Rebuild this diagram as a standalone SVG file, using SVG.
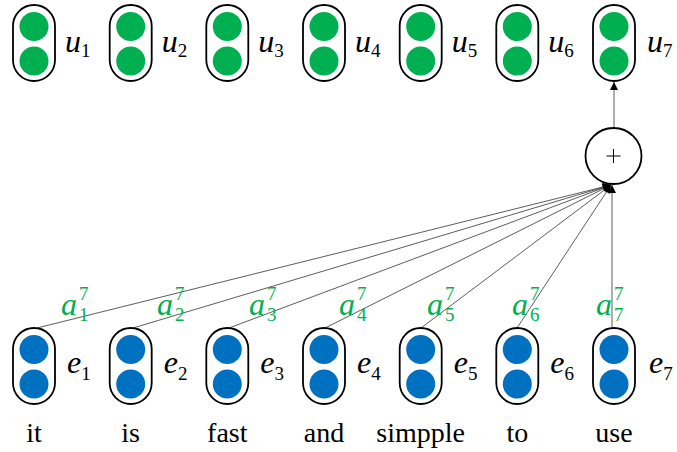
<svg xmlns="http://www.w3.org/2000/svg" width="677" height="452" viewBox="0 0 677 452">
<defs>
<style>
.box{fill:#fff;stroke:#000;stroke-width:1.8}
.g{fill:#00B050}
.b{fill:#0070C0}
text{font-family:'Liberation Serif','Times New Roman','DejaVu Serif',serif}
.var{font-style:italic;font-size:32px;fill:#000}
.sub{font-style:normal;font-size:19px}
.att{font-style:italic;font-size:32px;fill:#00B050}
.ga{fill:#00B050}
.word{font-size:28px;fill:#000;text-anchor:middle}
.conn{stroke:#333;stroke-width:0.8;fill:none}
</style>
<marker id="ah" viewBox="0 0 10 10" refX="10" refY="5" markerWidth="10" markerHeight="8" markerUnits="userSpaceOnUse" orient="auto">
<path d="M0,0 L10,5 L0,10 z" fill="#000"/>
</marker>
</defs>
<rect width="677" height="452" fill="#fff"/>

<g id="connectors">
<line class="conn" x1="37" y1="328" x2="611" y2="185" marker-end="url(#ah)"/>
<line class="conn" x1="133" y1="328" x2="611" y2="185" marker-end="url(#ah)"/>
<line class="conn" x1="229" y1="328" x2="611" y2="185" marker-end="url(#ah)"/>
<line class="conn" x1="325" y1="328" x2="611" y2="185" marker-end="url(#ah)"/>
<line class="conn" x1="421" y1="328" x2="611" y2="185" marker-end="url(#ah)"/>
<line class="conn" x1="517" y1="328" x2="611" y2="185" marker-end="url(#ah)"/>
<line class="conn" x1="612" y1="328" x2="612" y2="185" marker-end="url(#ah)"/>
<line class="conn" x1="614" y1="128" x2="614" y2="82" marker-end="url(#ah)"/>
</g>

<g id="plus">
<circle cx="613.5" cy="156" r="28" fill="#fff" stroke="#000" stroke-width="1.8"/>
<line x1="606.5" y1="156" x2="620.5" y2="156" stroke="#000" stroke-width="1"/>
<line x1="613.5" y1="149" x2="613.5" y2="163" stroke="#000" stroke-width="1"/>
</g>

<g id="u1"><rect class="box" x="13" y="5" width="42" height="76" rx="21"/><circle class="g" cx="34" cy="26.5" r="14.5"/><circle class="g" cx="34" cy="61" r="14.5"/><text class="var" x="65" y="52">u<tspan class="sub" dy="5">1</tspan></text></g>
<g id="u2"><rect class="box" x="109.7" y="5" width="42" height="76" rx="21"/><circle class="g" cx="130.7" cy="26.5" r="14.5"/><circle class="g" cx="130.7" cy="61" r="14.5"/><text class="var" x="161.7" y="52">u<tspan class="sub" dy="5">2</tspan></text></g>
<g id="u3"><rect class="box" x="206.3" y="5" width="42" height="76" rx="21"/><circle class="g" cx="227.3" cy="26.5" r="14.5"/><circle class="g" cx="227.3" cy="61" r="14.5"/><text class="var" x="258.3" y="52">u<tspan class="sub" dy="5">3</tspan></text></g>
<g id="u4"><rect class="box" x="303" y="5" width="42" height="76" rx="21"/><circle class="g" cx="324" cy="26.5" r="14.5"/><circle class="g" cx="324" cy="61" r="14.5"/><text class="var" x="355" y="52">u<tspan class="sub" dy="5">4</tspan></text></g>
<g id="u5"><rect class="box" x="399.7" y="5" width="42" height="76" rx="21"/><circle class="g" cx="420.7" cy="26.5" r="14.5"/><circle class="g" cx="420.7" cy="61" r="14.5"/><text class="var" x="451.7" y="52">u<tspan class="sub" dy="5">5</tspan></text></g>
<g id="u6"><rect class="box" x="496.3" y="5" width="42" height="76" rx="21"/><circle class="g" cx="517.3" cy="26.5" r="14.5"/><circle class="g" cx="517.3" cy="61" r="14.5"/><text class="var" x="548.3" y="52">u<tspan class="sub" dy="5">6</tspan></text></g>
<g id="u7"><rect class="box" x="593" y="5" width="42" height="76" rx="21"/><circle class="g" cx="614" cy="26.5" r="14.5"/><circle class="g" cx="614" cy="61" r="14.5"/><text class="var" x="647" y="52">u<tspan class="sub" dy="5">7</tspan></text></g>

<g id="e1"><rect class="box" x="13" y="328" width="42" height="76" rx="21"/><circle class="b" cx="34" cy="349.5" r="14.5"/><circle class="b" cx="34" cy="384" r="14.5"/><text class="var" x="67" y="373">e<tspan class="sub" dy="7">1</tspan></text></g>
<g id="e2"><rect class="box" x="109.7" y="328" width="42" height="76" rx="21"/><circle class="b" cx="130.7" cy="349.5" r="14.5"/><circle class="b" cx="130.7" cy="384" r="14.5"/><text class="var" x="163.7" y="373">e<tspan class="sub" dy="7">2</tspan></text></g>
<g id="e3"><rect class="box" x="206.3" y="328" width="42" height="76" rx="21"/><circle class="b" cx="227.3" cy="349.5" r="14.5"/><circle class="b" cx="227.3" cy="384" r="14.5"/><text class="var" x="260.3" y="373">e<tspan class="sub" dy="7">3</tspan></text></g>
<g id="e4"><rect class="box" x="303" y="328" width="42" height="76" rx="21"/><circle class="b" cx="324" cy="349.5" r="14.5"/><circle class="b" cx="324" cy="384" r="14.5"/><text class="var" x="357" y="373">e<tspan class="sub" dy="7">4</tspan></text></g>
<g id="e5"><rect class="box" x="399.7" y="328" width="42" height="76" rx="21"/><circle class="b" cx="420.7" cy="349.5" r="14.5"/><circle class="b" cx="420.7" cy="384" r="14.5"/><text class="var" x="453.7" y="373">e<tspan class="sub" dy="7">5</tspan></text></g>
<g id="e6"><rect class="box" x="496.3" y="328" width="42" height="76" rx="21"/><circle class="b" cx="517.3" cy="349.5" r="14.5"/><circle class="b" cx="517.3" cy="384" r="14.5"/><text class="var" x="550.3" y="373">e<tspan class="sub" dy="7">6</tspan></text></g>
<g id="e7"><rect class="box" x="593" y="328" width="42" height="76" rx="21"/><circle class="b" cx="614" cy="349.5" r="14.5"/><circle class="b" cx="614" cy="384" r="14.5"/><text class="var" x="649" y="373">e<tspan class="sub" dy="7">7</tspan></text></g>

<g id="attention-labels">
<text class="att" x="61" y="315">a</text><text class="sub ga" x="79" y="300">7</text><text class="sub ga" x="79" y="321">1</text>
<text class="att" x="157" y="315">a</text><text class="sub ga" x="175" y="300">7</text><text class="sub ga" x="175" y="321">2</text>
<text class="att" x="249" y="315">a</text><text class="sub ga" x="267" y="300">7</text><text class="sub ga" x="267" y="321">3</text>
<text class="att" x="339" y="315">a</text><text class="sub ga" x="357" y="300">7</text><text class="sub ga" x="357" y="321">4</text>
<text class="att" x="427" y="315">a</text><text class="sub ga" x="445" y="300">7</text><text class="sub ga" x="445" y="321">5</text>
<text class="att" x="512" y="315">a</text><text class="sub ga" x="530" y="300">7</text><text class="sub ga" x="530" y="321">6</text>
<text class="att" x="596" y="315">a</text><text class="sub ga" x="614" y="300">7</text><text class="sub ga" x="614" y="321">7</text>
</g>

<g id="words">
<text class="word" x="34" y="442">it</text>
<text class="word" x="130.7" y="442">is</text>
<text class="word" x="227.3" y="442">fast</text>
<text class="word" x="324" y="442">and</text>
<text class="word" x="420.7" y="442">simpple</text>
<text class="word" x="517.3" y="442">to</text>
<text class="word" x="614" y="442">use</text>
</g>
</svg>
